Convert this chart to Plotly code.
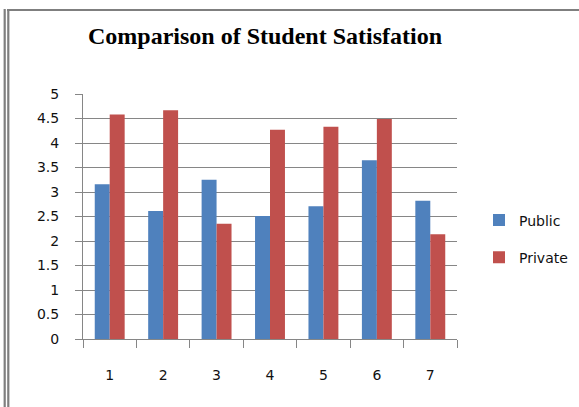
import plotly.graph_objects as go

# Survey results: average satisfaction score per question, by school type
questions = ["1", "2", "3", "4", "5", "6", "7"]
public_scores = [3.16, 2.61, 3.25, 2.51, 2.71, 3.65, 2.82]
private_scores = [4.58, 4.67, 2.35, 4.27, 4.33, 4.49, 2.14]
y_ticks = [0, 0.5, 1, 1.5, 2, 2.5, 3, 3.5, 4, 4.5, 5]

W, H = 579, 407
L, R, T, B = 83, 122, 94, 68
pw, ph = W - L - R, H - T - B


def px_x(x):
    return (x - L) / pw


def px_y(y):
    return (H - B - y) / ph


GRID = "#868686"
AXIS_FONT = dict(family="DejaVu Sans", size=14, color="#111111")

fig = go.Figure()
fig.add_trace(go.Bar(name="Public", x=questions, y=public_scores,
                     marker=dict(color="#4F81BD", line=dict(width=0)),
                     legendgroup="a"))
fig.add_trace(go.Bar(name="Private", x=questions, y=private_scores,
                     marker=dict(color="#C0504D", line=dict(width=0)),
                     legendgroup="b"))

# worksheet-style frame around the chart object
frame = dict(type="line", xref="paper", yref="paper", line=dict(color="#7f7f7f", width=2.2))
shapes = [
    dict(frame, x0=px_x(7), x1=px_x(W + 2), y0=px_y(10), y1=px_y(10)),
    dict(frame, x0=px_x(4.7), x1=px_x(4.7), y0=px_y(9), y1=px_y(H + 2)),
    dict(frame, x0=px_x(8.3), x1=px_x(8.3), y0=px_y(10), y1=px_y(H + 2)),
]

fig.update_layout(
    width=W, height=H,
    margin=dict(l=L, r=R, t=T, b=B, pad=0, autoexpand=False),
    paper_bgcolor="white", plot_bgcolor="white",
    barmode="group", bargap=0.44, bargroupgap=0,
    title=dict(text="Comparison of Student Satisfation",
               font=dict(family="Liberation Serif", size=24, color="#000000", weight="bold"),
               xref="paper", x=px_x(265), xanchor="center",
               yref="container", y=1 - 36 / H, yanchor="middle"),
    legend=dict(x=px_x(479), xanchor="left", y=px_y(239), yanchor="middle",
                font=dict(family="DejaVu Sans", size=14, color="#111111"),
                tracegroupgap=16, itemwidth=30, bgcolor="rgba(0,0,0,0)"),
    shapes=shapes,
    xaxis=dict(type="category", tickson="boundaries", ticks="outside", ticklen=8,
               tickcolor=GRID, tickwidth=1, showline=True, linecolor=GRID, linewidth=1,
               showgrid=False, tickfont=AXIS_FONT, ticklabelstandoff=23),
    yaxis=dict(range=[0, 5], tickvals=y_ticks, ticktext=[f"{v:g}" for v in y_ticks],
               ticks="outside", ticklen=7, tickcolor=GRID, tickwidth=1,
               showline=True, linecolor=GRID, linewidth=1,
               showgrid=True, gridcolor=GRID, gridwidth=1, zeroline=False,
               tickfont=AXIS_FONT, ticklabelstandoff=13),
)

fig.write_html("out.html")
